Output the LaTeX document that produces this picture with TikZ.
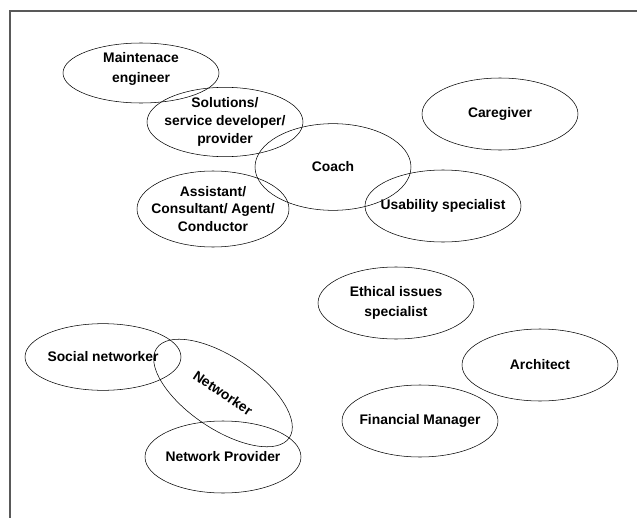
\documentclass[tikz,border=0pt]{standalone}
\usepackage{fontspec}
\setmainfont{Liberation Sans}
\usetikzlibrary{shapes.geometric}

\begin{document}
\begin{tikzpicture}[x=0.75pt,y=-0.75pt,
                    role/.style={ellipse,draw,thin,inner sep=0pt,
                                 minimum width=117pt,minimum height=54pt},
                    tag/.style={align=center,
                                font=\bfseries\fontsize{10.4}{13.8}\selectfont},
                    widetag/.style={tag,font=\bfseries\fontsize{10.4}{15}\selectfont}]
  \useasboundingbox (0,0) rectangle (637,518);
  \draw [gray!70!black,line width=0.8pt] (10,518) |- (637,11);

  \node [role,minimum height=45pt] (maint) at (141,73)
        [label={[widetag,yshift=3pt]center:Maintenace\\engineer}] {};
  \node [role,minimum height=52pt] (solutions) at (225,122)
        [label={[tag]center:Solutions/\\service developer/\\provider}] {};
  \node [role,minimum height=65pt] (coach) at (333,167)
        [label={[tag]center:Coach}] {};
  \node [role,minimum width=114pt,minimum height=57pt] (assistant) at (213,209)
        [label={[tag,font=\bfseries\fontsize{10.4}{12.8}\selectfont]center:Assistant/\\Consultant/ Agent/\\Conductor}] {};
  \node [role] (caregiver) at (500,114)  [label={[tag]center:Caregiver}] {};
  \node [role] (usability) at (443,206)  [label={[tag]center:Usability specialist}] {};
  \node [role] (ethics)    at (396,303)  [label={[widetag]center:Ethical issues\\specialist}] {};
  \node [role] (architect) at (540,365)  [label={[tag]center:Architect}] {};
  \node [role] (finance)   at (420,421)  [label={[tag]center:Financial Manager}] {};

  \node [role,minimum height=50pt] (social) at (103,357)
        [label={[tag]center:Social networker}] {};
  \node [role,minimum width=120pt,rotate=-34] (networker) at (223,393)
        [label={[tag,rotate=-34]center:Networker}] {};
  \node [role] (netprovider) at (223,457) [label={[tag]center:Network Provider}] {};
\end{tikzpicture}
\end{document}
